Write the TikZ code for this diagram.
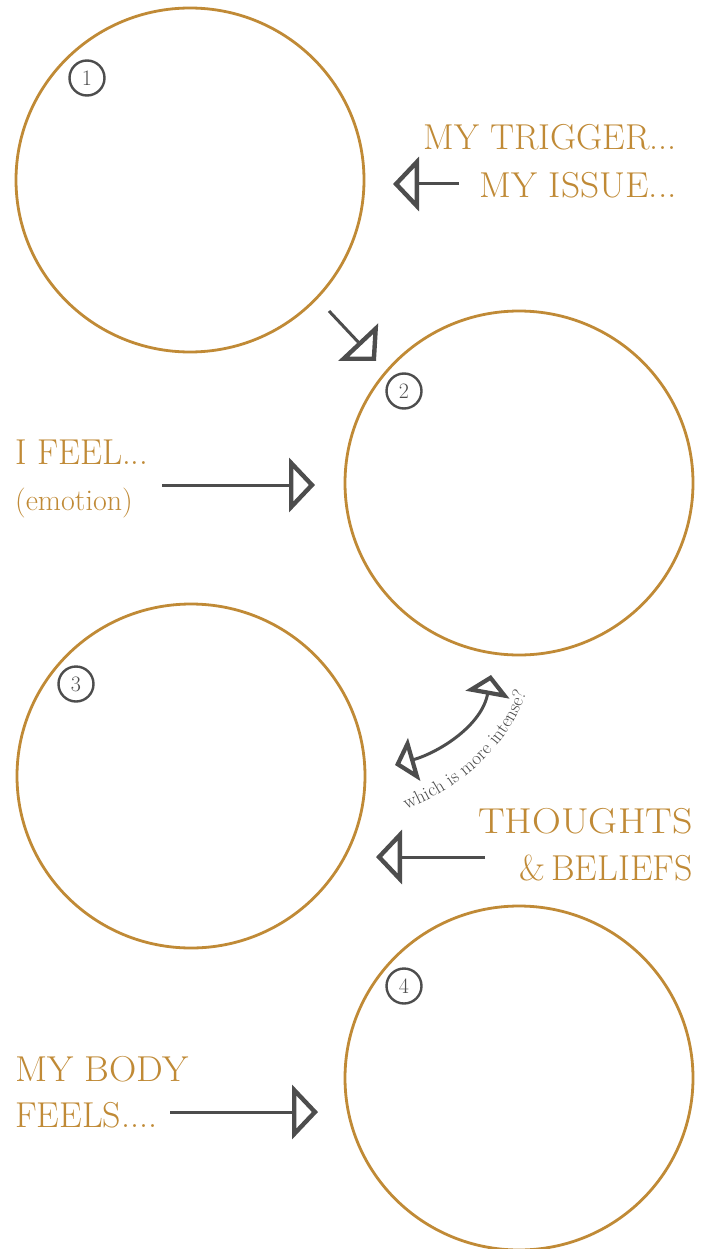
\documentclass[tikz,border=0pt]{standalone}
\usetikzlibrary{arrows.meta,decorations.text,shapes.geometric}
\definecolor{gold}{HTML}{C08A36}
\definecolor{ink}{HTML}{4D4D4D}
\tikzset{
  bigcirc/.style={draw=gold, line width=2.8pt, ellipse, minimum width=348pt, minimum height=344pt, inner sep=0pt},
  numcirc/.style={draw=ink, line width=2.4pt, circle, minimum size=35pt, inner sep=0pt, text=ink, font=\fontsize{22}{22}\selectfont},
  lbl/.style={text=gold, inner sep=0pt, font=\fontsize{36}{40}\selectfont},
  conn/.style={draw=ink, line width=3pt, -{Triangle[open, length=26pt, width=54pt, line width=4.4pt]}},
  dconn/.style={draw=ink, line width=3pt, {Triangle[open, length=20pt, width=44pt, line width=4.2pt]}-{Triangle[open, length=20pt, width=44pt, line width=4.2pt]}}
}
\begin{document}
\begin{tikzpicture}[x=1pt,y=-1pt]
\useasboundingbox (0,0) rectangle (708,1249);
\fill[white] (0,0) rectangle (708,1249);
% big circles
\node[bigcirc] (c1) at (190,180) {};
\node[bigcirc] (c2) at (519,483) {};
\node[bigcirc] (c3) at (191,776) {};
\node[bigcirc] (c4) at (519,1078) {};
% number circles
\node[numcirc] (n1) at (87,78) {1};
\node[numcirc] (n2) at (404,391) {2};
\node[numcirc] (n3) at (76,684) {3};
\node[numcirc] (n4) at (404,986) {4};
% labels
\node[lbl, anchor=base east] (t1a) at (677,150) {MY TRIGGER...};
\node[lbl, anchor=base east] (t1b) at (677,198) {\scalebox{1.04}[1]{MY ISSUE...}};
\node[lbl, anchor=base west] (t2a) at (15,464) {\scalebox{0.97}[1]{I FEEL...}};
\node[lbl, anchor=base west, font=\fontsize{30}{32}\selectfont] (t2b) at (15,510) {(emotion)};
\node[lbl, anchor=base east] (t3a) at (693,833) {\scalebox{1.11}[1]{THOUGHTS}};
\node[lbl, anchor=base east] (t3b) at (693,880) {\&\,BELIEFS};
\node[lbl, anchor=base west] (t4a) at (15,1081) {\scalebox{1.05}[1]{MY BODY}};
\node[lbl, anchor=base west] (t4b) at (15,1127) {FEELS....};
% arrow endpoints
\coordinate (a1s) at (459,184); \coordinate (a1e) at (393,184);
\coordinate (a12s) at (329,311); \coordinate (a12e) at (376,361);
\coordinate (a2s) at (162,485); \coordinate (a2e) at (315,485);
\coordinate (a3s) at (485,857); \coordinate (a3e) at (376,857);
\coordinate (a4s) at (170,1112); \coordinate (a4e) at (318,1112);
\coordinate (dA) at (395,765); \coordinate (dB) at (491,675);
% arrows
\draw[conn] (a1s) -- (a1e);
\draw[conn] (a12s) -- (a12e);
\draw[conn] (a2s) -- (a2e);
\draw[conn] (a3s) -- (a3e);
\draw[conn] (a4s) -- (a4e);
\draw[dconn] (dA) .. controls (440,752) and (482,725) .. (dB);
% curved text
\path[decorate, decoration={text along path, text align=center, text={|\color{ink}\fontsize{19}{19}\selectfont|which is more intense?}}]
  (394,814) .. controls (458,792) and (514,745) .. (530,680);
\end{tikzpicture}
\end{document}
